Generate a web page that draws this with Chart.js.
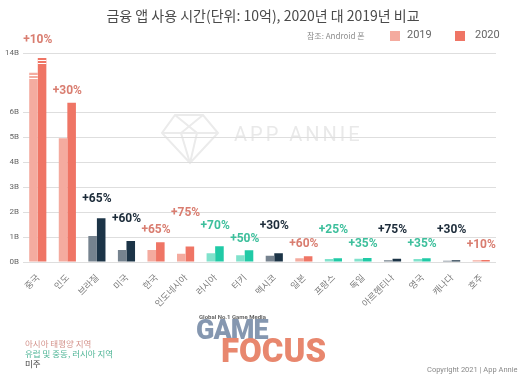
<!DOCTYPE html>
<html>
<head>
<meta charset="utf-8">
<script src="https://cdn.jsdelivr.net/npm/chart.js@4/dist/chart.umd.min.js"></script>
<style>
  body { margin: 0; background: #fff; }
  #wrap { position: relative; width: 526px; height: 377px; overflow: hidden; font-family: "Noto Sans CJK KR", "Noto Sans", sans-serif; }
  #chart { position: absolute; left: 0; top: 0; }
  .txt { position: absolute; white-space: nowrap; }
  #title { left: 0; width: 526px; top: 5px; text-align: center; font-size: 14px; color: #4a4a4a; }
  .sw { position: absolute; width: 10px; height: 10px; }
</style>
</head>
<body>
<div id="wrap">
  <canvas id="chart" width="526" height="377"></canvas>
  <div id="title" class="txt">금융 앱 사용 시간(단위: 10억), 2020년 대 2019년 비교</div>
  <div class="txt" style="left:307px; top:30px; font-size:8px; color:#8a8a8a;">참조: Android 폰</div>
  <div class="sw" style="left:390px; top:31px; background:#f4ab9f;"></div>
  <div class="txt" style="left:407px; top:28px; font-size:11px; color:#666; font-family:Roboto, sans-serif;">2019</div>
  <div class="sw" style="left:455px; top:31px; background:#ef7565;"></div>
  <div class="txt" style="left:475px; top:28px; font-size:11px; color:#666; font-family:Roboto, sans-serif;">2020</div>

  <div class="txt" style="left:25px; top:337px; font-size:8.5px; color:#d4938c;">아시아 태평양 지역</div>
  <div class="txt" style="left:25px; top:347px; font-size:8.5px; color:#4fb596;">유럽 및 중동, 러시아 지역</div>
  <div class="txt" style="left:25px; top:357px; font-size:8.5px; color:#444;">미주</div>

  <div class="txt" style="left:199px; top:313px; font-size:6px; font-weight:bold; color:#666; font-family:Roboto, sans-serif;">Global No.1 Game Media</div>
  <div class="txt" style="left:196px; top:314px; font-size:27px; font-weight:900; color:#8597b0; font-family:Roboto, sans-serif; letter-spacing:-1px;">GAME</div>
  <div class="txt" style="left:221px; top:331px; font-size:33px; font-weight:900; color:#e8876e; font-family:Roboto, sans-serif; letter-spacing:0px;">FOCUS</div>

  <div class="txt" style="left:427px; top:365px; font-size:7.5px; color:#8a8a8a; font-family:Roboto, sans-serif;">Copyright 2021 | App Annie</div>
</div>
<script>
// categories and values (billions of hours)
const countries = ['중국', '인도', '브라질', '미국', '한국', '인도네시아', '러시아', '터키',
                   '멕시코', '일본', '프랑스', '독일', '아르헨티나', '영국', '캐나다', '호주'];
const regions = ['A', 'A', 'M', 'M', 'A', 'A', 'E', 'E', 'M', 'A', 'E', 'E', 'M', 'E', 'M', 'A'];
const hours2019 = [12.4, 4.95, 1.04, 0.48, 0.48, 0.33, 0.35, 0.27, 0.25, 0.15, 0.12, 0.13, 0.07, 0.12, 0.05, 0.07];
const hours2020 = [13.6, 6.37, 1.75, 0.84, 0.79, 0.62, 0.63, 0.47, 0.35, 0.23, 0.15, 0.16, 0.13, 0.15, 0.07, 0.08];
const growth = ['+10%', '+30%', '+65%', '+60%', '+65%', '+75%', '+70%', '+50%',
                '+30%', '+60%', '+25%', '+35%', '+75%', '+35%', '+30%', '+10%'];
const yTicks = [0, 1, 2, 3, 4, 5, 6, 14];

// styling
const colors2019 = { A: '#f4ab9f', E: '#80e2cc', M: '#76838f' };
const colors2020 = { A: '#ef7565', E: '#20caa6', M: '#1c3447' };
const labelColors = { A: '#d97d70', E: '#3dbf9c', M: '#1d2c3a' };
const labelLift = [18, 12, 19, 22, 12, 34, 20, 11, 27, 12, 28, 14, 29, 14, 30, 15];

// broken axis: value -> fraction of axis height
const breakKnots = [[0, 0], [6.5, 0.7775], [11, 0.823], [14, 1]];

function valueToFraction(v) {
    const k = breakKnots;
    if (v <= k[0][0]) return 0;
    for (let i = 0; i < k.length - 1; i++) {
        if (v <= k[i + 1][0]) {
            return k[i][1] + (v - k[i][0]) / (k[i + 1][0] - k[i][0]) * (k[i + 1][1] - k[i][1]);
        }
    }
    return 1;
}
function fractionToValue(f) {
    const k = breakKnots;
    for (let i = 0; i < k.length - 1; i++) {
        if (f <= k[i + 1][1]) {
            return k[i][0] + (f - k[i][1]) / (k[i + 1][1] - k[i][1]) * (k[i + 1][0] - k[i][0]);
        }
    }
    return k[k.length - 1][0];
}

class BrokenLinearScale extends Chart.LinearScale {
    getPixelForValue(value) {
        return this.getPixelForDecimal(valueToFraction(value));
    }
    getValueForPixel(pixel) {
        return fractionToValue(this.getDecimalForPixel(pixel));
    }
    buildTicks() {
        return yTicks.map((v) => ({ value: v }));
    }
}
BrokenLinearScale.id = 'brokenLinear';
BrokenLinearScale.defaults = Chart.LinearScale.defaults;
Chart.register(BrokenLinearScale);

const watermark = {
    id: 'watermark',
    beforeDraw(chart) {
        const ctx = chart.ctx;
        ctx.save();
        ctx.strokeStyle = '#ebebeb';
        ctx.lineWidth = 2;
        ctx.beginPath();
        ctx.moveTo(175, 115); ctx.lineTo(203, 115); ctx.lineTo(218, 133);
        ctx.lineTo(190, 163); ctx.lineTo(162, 133); ctx.closePath();
        ctx.moveTo(162, 133); ctx.lineTo(218, 133);
        ctx.moveTo(175, 115); ctx.lineTo(197, 133); ctx.lineTo(190, 163);
        ctx.moveTo(203, 115); ctx.lineTo(181, 133); ctx.lineTo(190, 163);
        ctx.stroke();
        ctx.fillStyle = '#e9e9e9';
        ctx.font = '20px Roboto, sans-serif';
        ctx.textBaseline = 'middle';
        if ('letterSpacing' in ctx) ctx.letterSpacing = '3px';
        ctx.fillText('APP ANNIE', 234, 136);
        ctx.restore();
    }
};

const growthLabels = {
    id: 'growthLabels',
    afterDatasetsDraw(chart) {
        const ctx = chart.ctx;
        const m0 = chart.getDatasetMeta(0);
        const m1 = chart.getDatasetMeta(1);
        ctx.save();
        // break marks on bars that run past the axis break
        ctx.strokeStyle = '#ffffff';
        ctx.lineWidth = 1;
        [m0, m1].forEach((meta, d) => {
            const vals = d === 0 ? hours2019 : hours2020;
            meta.data.forEach((bar, i) => {
                if (vals[i] > breakKnots[1][0]) {
                    const half = bar.width / 2;
                    [2.5, 5].forEach((off) => {
                        ctx.beginPath();
                        ctx.moveTo(bar.x - half, Math.round(bar.y + off) + 0.5);
                        ctx.lineTo(bar.x + half, Math.round(bar.y + off) + 0.5);
                        ctx.stroke();
                    });
                }
            });
        });
        ctx.font = 'bold 12px Roboto, sans-serif';
        ctx.textAlign = 'center';
        ctx.textBaseline = 'middle';
        m1.data.forEach((bar, i) => {
            const x = (m0.data[i].x + bar.x) / 2;
            const top = Math.min(bar.y, m0.data[i].y);
            ctx.fillStyle = labelColors[regions[i]];
            ctx.fillText(growth[i], x, top - labelLift[i]);
        });
        ctx.restore();
    }
};

new Chart(document.getElementById('chart'), {
    type: 'bar',
    data: {
        labels: countries,
        datasets: [
            { label: '2019', data: hours2019, backgroundColor: regions.map((r) => colors2019[r]) },
            { label: '2020', data: hours2020, backgroundColor: regions.map((r) => colors2020[r]) }
        ]
    },
    options: {
        responsive: false,
        animation: false,
        devicePixelRatio: 1,
        layout: { padding: { top: 53, left: 4, right: 30, bottom: 0 } },
        plugins: { legend: { display: false }, tooltip: { enabled: false } },
        datasets: { bar: { categoryPercentage: 0.58, barPercentage: 1 } },
        scales: {
            x: {
                grid: { display: false },
                border: { display: false },
                ticks: {
                    minRotation: 45, maxRotation: 45, padding: 2,
                    color: '#7a7a7a',
                    font: { family: '"Noto Sans CJK KR", sans-serif', size: 9 }
                },
                afterFit: (scale) => { scale.height = 115; }
            },
            y: {
                type: 'brokenLinear',
                min: 0, max: 14,
                grid: { color: '#dedede', drawTicks: false },
                border: { display: false },
                ticks: {
                    padding: 4,
                    color: '#666',
                    font: { family: 'Roboto, sans-serif', size: 8 },
                    callback: (v) => v + 'B'
                },
                afterFit: (scale) => { scale.width = 19; }
            }
        }
    },
    plugins: [watermark, growthLabels]
});
</script>
</body>
</html>
